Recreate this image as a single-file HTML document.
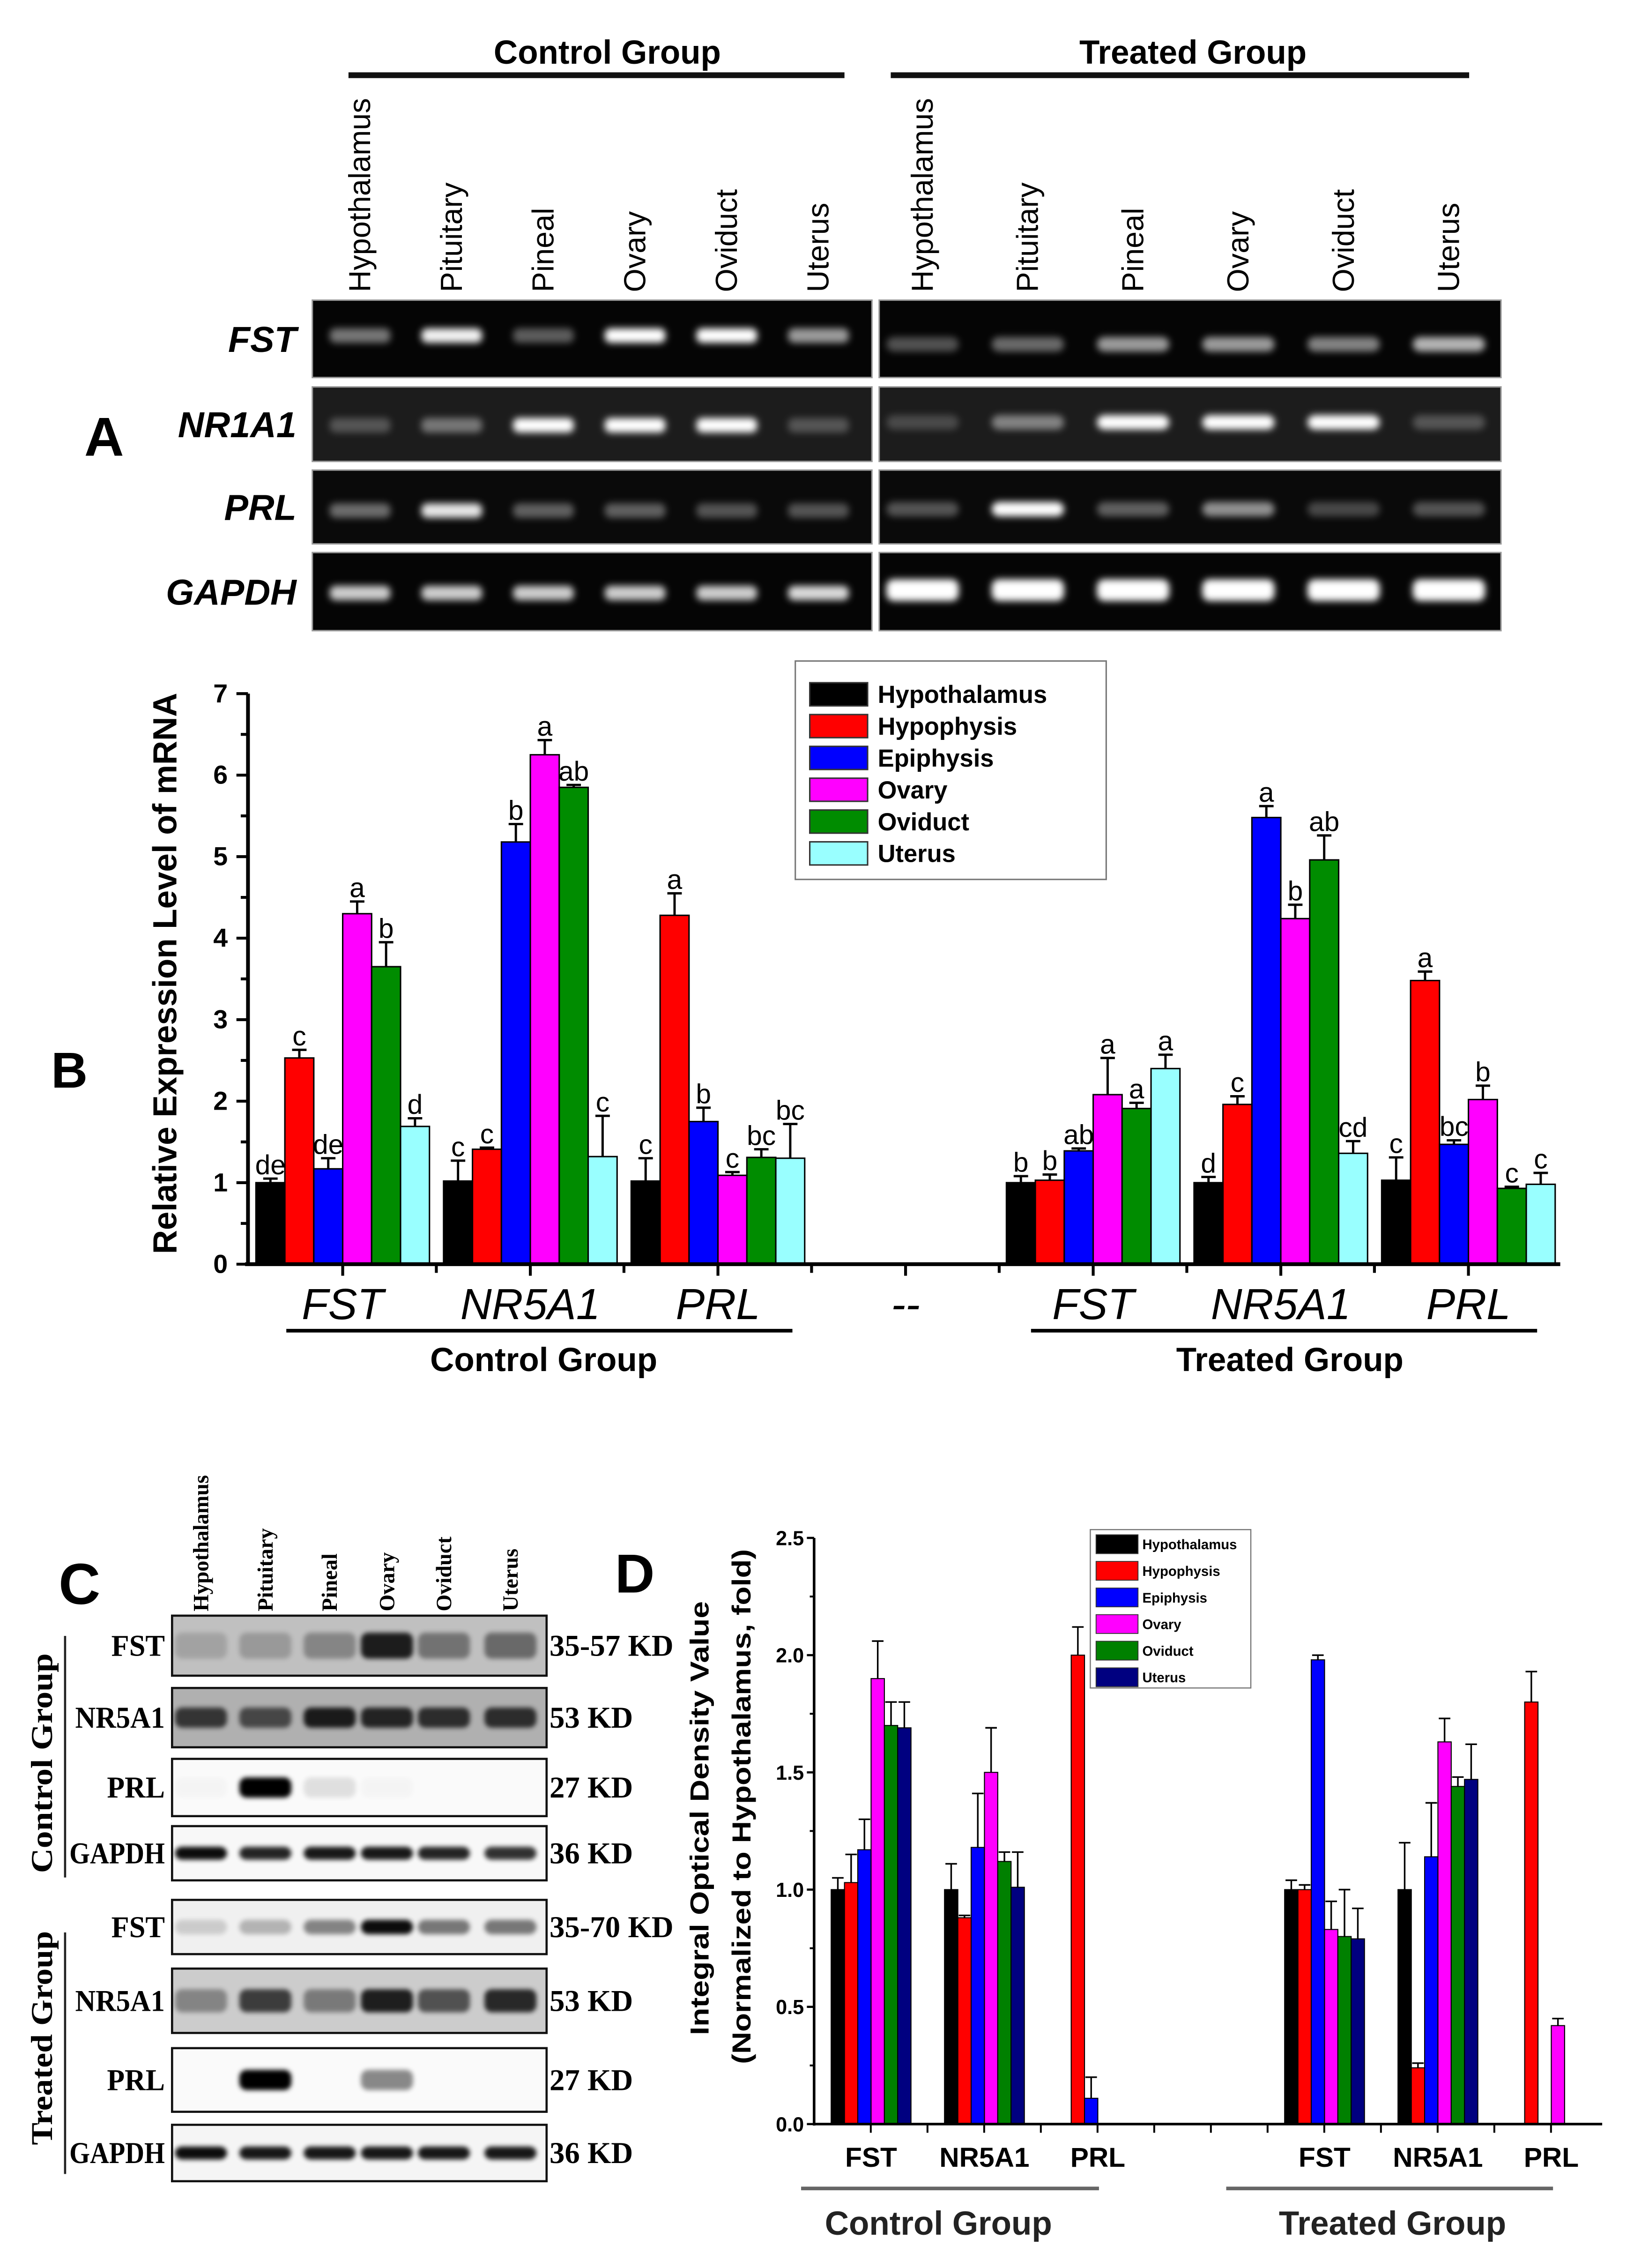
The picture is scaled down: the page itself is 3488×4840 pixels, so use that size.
<!DOCTYPE html>
<html><head><meta charset="utf-8">
<style>
html,body{margin:0;padding:0;background:#fff;}
svg{display:block;}
.sans{font-family:"Liberation Sans",sans-serif;}
.serif{font-family:"Liberation Serif",serif;}
</style></head>
<body>
<svg id="fig" width="3488" height="4840" viewBox="0 0 1130 1568" xmlns="http://www.w3.org/2000/svg">
<defs>
<filter id="glow" x="-50%" y="-200%" width="200%" height="500%"><feGaussianBlur stdDeviation="2.4"/></filter>
<filter id="soft" x="-50%" y="-200%" width="200%" height="500%"><feGaussianBlur stdDeviation="1.6"/></filter>
</defs>
<rect width="1130" height="1568" fill="#fff"/>

<!-- PANEL A -->
<g id="panelA">
<text x="72" y="315" class="sans" font-size="38" font-weight="bold" text-anchor="middle">A</text>
<text x="420" y="44" class="sans" font-size="23" font-weight="bold" text-anchor="middle">Control Group</text>
<rect x="241" y="50" width="343" height="4" fill="#111"/>
<text x="825" y="44" class="sans" font-size="23" font-weight="bold" text-anchor="middle">Treated Group</text>
<rect x="616" y="50" width="400" height="4" fill="#111"/>
<g id="aLanes"></g>
<g id="aGels"></g>
</g>

<!-- PANEL B -->
<g id="panelB">
<text x="48" y="752" class="sans" font-size="35" font-weight="bold" text-anchor="middle">B</text>
<text transform="translate(122,673) rotate(-90)" class="sans" font-size="23" font-weight="bold" text-anchor="middle" textLength="388" lengthAdjust="spacingAndGlyphs">Relative Expression Level of mRNA</text>
<g id="bChart"></g>
</g>

<!-- PANEL C -->
<g id="panelC">
<text x="55" y="1109" class="sans" font-size="40" font-weight="bold" text-anchor="middle">C</text>
<text transform="translate(36,1219) rotate(-90)" class="serif" font-size="21" font-weight="bold" text-anchor="middle" textLength="152" lengthAdjust="spacingAndGlyphs">Control Group</text>
<line x1="45" y1="1131" x2="45" y2="1298" stroke="#222" stroke-width="1.5"/>
<text transform="translate(36,1409) rotate(-90)" class="serif" font-size="21" font-weight="bold" text-anchor="middle" textLength="148" lengthAdjust="spacingAndGlyphs">Treated Group</text>
<line x1="45" y1="1336" x2="45" y2="1503" stroke="#222" stroke-width="1.5"/>
<g id="cBlot"></g>
</g>

<!-- PANEL D -->
<g id="panelD">
<text x="439" y="1101" class="sans" font-size="38" font-weight="bold" text-anchor="middle">D</text>
<text transform="translate(490,1257) rotate(-90)" class="sans" font-size="18" font-weight="bold" text-anchor="middle" textLength="300" lengthAdjust="spacingAndGlyphs">Integral Optical Density Value</text>
<text transform="translate(519,1249) rotate(-90)" class="sans" font-size="18" font-weight="bold" text-anchor="middle" textLength="356" lengthAdjust="spacingAndGlyphs">(Normalized to Hypothalamus, fold)</text>
<g id="dChart"></g>
</g>
</svg>

<script>
var NS = "http://www.w3.org/2000/svg";
function mk(tag, attrs, parent){var e=document.createElementNS(NS,tag);for(var k in attrs)e.setAttribute(k,attrs[k]);parent.appendChild(e);return e;}

/* ---------- Panel A data ---------- */
var aLaneNames = ["Hypothalamus","Pituitary","Pineal","Ovary","Oviduct","Uterus"];
var aGenes = ["FST","NR1A1","PRL","GAPDH"];
var aCtrlFST = [0.45,0.95,0.35,1,1,0.6];
var aCtrlNR = [0.25,0.4,1,1,1,0.25];
var aCtrlPRL = [0.4,0.9,0.35,0.35,0.3,0.3];
var aCtrlGAPDH = [0.8,0.8,0.8,0.8,0.8,0.85];
var aTrtFST = [0.3,0.4,0.6,0.6,0.5,0.7];
var aTrtNR = [0.2,0.45,1,1,1,0.25];
var aTrtPRL = [0.3,1,0.35,0.55,0.25,0.3];
var aTrtGAPDH = [1,1,1,1,1,1];

(function(){
  var lanes = document.getElementById('aLanes');
  var gels = document.getElementById('aGels');
  var ctrlX0=249, ctrlStep=63.4, trtX0=638, trtStep=72.8;
  var rowsTop=[207.5,267.5,325,382], rowsH=[53.5,51.5,51,54];
  var rowBandY=[232,294,353,410];
  var rowBandYT=[238,292,352,408];
  var rowFill=["#050505","#1c1c1c","#0a0a0a","#050505"];
  var ctrlRows=[aCtrlFST,aCtrlNR,aCtrlPRL,aCtrlGAPDH];
  var trtRows=[aTrtFST,aTrtNR,aTrtPRL,aTrtGAPDH];
  for(var g=0; g<2; g++){
    for(var i=0;i<aLaneNames.length;i++){
      var cx = g===0 ? ctrlX0+ctrlStep*i : trtX0+trtStep*i;
      var t = mk('text',{transform:'translate('+(cx+7)+',202) rotate(-90)','class':'sans','font-size':'21','text-anchor':'start'},lanes);
      t.textContent = aLaneNames[i];
      
      
    }
  }
  for(var r=0;r<4;r++){
    var lbl = mk('text',{x:205,y:rowsTop[r]+rowsH[r]/2+9,'class':'sans','font-size':'25','font-weight':'bold','font-style':'italic','text-anchor':'end'},gels);
    lbl.textContent = aGenes[r];
    
    
    var b1 = mk('rect',{x:216,y:rowsTop[r],width:387,height:rowsH[r],fill:rowFill[r],stroke:'#999','stroke-width':'1'},gels);
    
    
    var b2 = mk('rect',{x:608,y:rowsTop[r],width:430,height:rowsH[r],fill:rowFill[r],stroke:'#999','stroke-width':'1'},gels);
    
    
    for(var i=0;i<6;i++){
      var v=ctrlRows[r][i];
      var cx=ctrlX0+ctrlStep*i;
      var bd = mk('rect',{x:cx-21,y:rowBandY[r]-5,width:42,height:10,rx:4,fill:'#fff',opacity:v,filter:'url(#glow)'},gels);
      
      
      var v2=trtRows[r][i];
      var cx2=trtX0+trtStep*i;
      var hh = r===3?15:10;
      var bd2 = mk('rect',{x:cx2-25,y:rowBandYT[r]-hh/2,width:50,height:hh,rx:5,fill:'#fff',opacity:v2,filter:'url(#glow)'},gels);
      
      
    }
  }
})();

/* ---------- Panel B data ---------- */
var bSeries = ["Hypothalamus","Hypophysis","Epiphysis","Ovary","Oviduct","Uterus"];
var bColors = ["#000000","#ff0000","#0000ff","#ff00ff","#008c00","#99ffff"];
var bCategories = ["FST","NR5A1","PRL","--","FST","NR5A1","PRL"];
var bHypothalamus = [1.0,1.02,1.02,null,1.0,1.0,1.03];
var bHypophysis = [2.53,1.41,4.28,null,1.03,1.96,3.48];
var bEpiphysis = [1.17,5.18,1.75,null,1.39,5.48,1.47];
var bOvary = [4.3,6.25,1.09,null,2.08,4.24,2.02];
var bOviduct = [3.65,5.85,1.31,null,1.91,4.96,0.93];
var bUterus = [1.69,1.32,1.3,null,2.4,1.36,0.98];
var bErrHypothalamus = [0.05,0.25,0.28,null,0.08,0.07,0.28];
var bErrHypophysis = [0.1,0.02,0.27,null,0.07,0.1,0.11];
var bErrEpiphysis = [0.13,0.22,0.17,null,0.03,0.14,0.05];
var bErrOvary = [0.15,0.18,0.04,null,0.45,0.17,0.17];
var bErrOviduct = [0.3,0.03,0.1,null,0.07,0.3,0.02];
var bErrUterus = [0.1,0.5,0.42,null,0.17,0.15,0.14];
var bLetHypothalamus = ["de","c","c",null,"b","d","c"];
var bLetHypophysis = ["c","c","a",null,"b","c","a"];
var bLetEpiphysis = ["de","b","b",null,"ab","a","bc"];
var bLetOvary = ["a","a","c",null,"a","b","b"];
var bLetOviduct = ["b","ab","bc",null,"a","ab","c"];
var bLetUterus = ["d","c","bc",null,"a","cd","c"];
var bYTicks = [0,1,2,3,4,5,6,7];

(function(){
  var G=document.getElementById('bChart');
  var vals=[bHypothalamus,bHypophysis,bEpiphysis,bOvary,bOviduct,bUterus];
  var errs=[bErrHypothalamus,bErrHypophysis,bErrEpiphysis,bErrOvary,bErrOviduct,bErrUterus];
  var lets=[bLetHypothalamus,bLetHypophysis,bLetEpiphysis,bLetOvary,bLetOviduct,bLetUterus];
  var y0=874, yPer=56.35, axX=171.5, axEnd=1079;
  function Y(v){return y0 - v*yPer;}
  var step=129.75, start0=177, bw=20;
  function slotStart(i){return start0+step*i;}
  function slotCenter(i){return slotStart(i)+bw*3;}
  for(var s=0;s<vals.length;s++){
    for(var i=0;i<bCategories.length;i++){
      var v=vals[s][i]; if(v===null) continue;
      var x=slotStart(i)+bw*s;
      var top=Y(v+errs[s][i]);
      var el=mk('line',{x1:x+bw/2,y1:Y(v),x2:x+bw/2,y2:top,stroke:'#000','stroke-width':'1.6'},G);
      
      
      var cap=mk('line',{x1:x+bw/2-5,y1:top,x2:x+bw/2+5,y2:top,stroke:'#000','stroke-width':'1.6'},G);
      
      
      var r=mk('rect',{x:x,y:Y(v),width:bw,height:y0-Y(v),fill:bColors[s],stroke:'#000','stroke-width':'1'},G);
      
      
      var t=mk('text',{x:x+bw/2,y:top-3,'class':'sans','font-size':'19','text-anchor':'middle'},G);
      t.textContent=lets[s][i];
      
      
    }
  }
  var ya=mk('line',{x1:axX,y1:y0+1,x2:axX,y2:Y(7),stroke:'#000','stroke-width':'2.6'},G);
  
  
  var xa=mk('line',{x1:axX-2,y1:y0,x2:axEnd,y2:y0,stroke:'#000','stroke-width':'2.6'},G);
  
  
  for(var k=0;k<bYTicks.length;k++){
    var tv=bYTicks[k];
    var tk=mk('line',{x1:axX-8,y1:Y(tv),x2:axX,y2:Y(tv),stroke:'#000','stroke-width':'2'},G);
    
    
    if(k<bYTicks.length-1){
      var mt=mk('line',{x1:axX-5,y1:Y(tv+0.5),x2:axX,y2:Y(tv+0.5),stroke:'#000','stroke-width':'2'},G);
      
      
    }
    var tl=mk('text',{x:axX-14,y:Y(tv)+6,'class':'sans','font-size':'18','font-weight':'bold','text-anchor':'end'},G);
    tl.textContent=String(tv);
    
    
  }
  for(var i=0;i<bCategories.length;i++){
    var cx=slotCenter(i);
    var t1=mk('line',{x1:cx,y1:y0,x2:cx,y2:y0+8,stroke:'#000','stroke-width':'2'},G);
    
    
    var bx=slotStart(i)-5;
    if(i>0){
      var t2=mk('line',{x1:bx,y1:y0,x2:bx,y2:y0+6,stroke:'#000','stroke-width':'2'},G);
      
      
    }
    var cl=mk('text',{x:cx,y:912,'class':'sans','font-size':'30','font-style':'italic','text-anchor':'middle'},G);
    cl.textContent=bCategories[i];
    
    
  }
  var l1=mk('line',{x1:198,y1:920,x2:548,y2:920,stroke:'#000','stroke-width':'2.5'},G);
  
  
  var l2=mk('line',{x1:713,y1:920,x2:1063,y2:920,stroke:'#000','stroke-width':'2.5'},G);
  
  
  var g1=mk('text',{x:376,y:948,'class':'sans','font-size':'23','font-weight':'bold','text-anchor':'middle'},G);
  g1.textContent='Control Group';
  
  
  var g2=mk('text',{x:892,y:948,'class':'sans','font-size':'23','font-weight':'bold','text-anchor':'middle'},G);
  g2.textContent='Treated Group';
  
  
  var lg=mk('g',{},G);
  
  
  var lb=mk('rect',{x:550,y:457,width:215,height:151,fill:'#fff',stroke:'#777','stroke-width':'1'},lg);
  
  
  for(var s=0;s<bSeries.length;s++){
    var cy=480+22*s;
    var sw=mk('rect',{x:560,y:cy-8,width:40,height:16,fill:bColors[s],stroke:'#333','stroke-width':'1'},lg);
    
    
    var lt=mk('text',{x:607,y:cy+6,'class':'sans','font-size':'17','font-weight':'bold'},lg);
    lt.textContent=bSeries[s];
    
    
  }
})();

/* ---------- Panel C data ---------- */
var cLaneNames = ["Hypothalamus","Pituitary","Pineal","Ovary","Oviduct","Uterus"];
var cRowLabels = ["FST","NR5A1","PRL","GAPDH","FST","NR5A1","PRL","GAPDH"];
var cKdLabels = ["35-57 KD","53 KD","27 KD","36 KD","35-70 KD","53 KD","27 KD","36 KD"];
var cInt0 = [0.15,0.2,0.3,0.85,0.4,0.45];
var cInt1 = [0.7,0.6,0.85,0.8,0.75,0.75];
var cInt2 = [0.02,1,0.1,0.02,0,0];
var cInt3 = [0.95,0.85,0.9,0.9,0.85,0.8];
var cInt4 = [0.15,0.25,0.45,0.95,0.5,0.5];
var cInt5 = [0.35,0.7,0.4,0.85,0.6,0.8];
var cInt6 = [0,1,0,0.45,0,0];
var cInt7 = [0.95,0.9,0.9,0.9,0.9,0.9];

(function(){
  var G=document.getElementById('cBlot');
  var laneX=[139,183.5,228,267.6,307,353];
  var rowTop=[1117,1167,1216,1262.5,1313.5,1361,1416,1469];
  var rowBot=[1158.5,1208,1255.6,1300,1351,1405.5,1460,1508];
  var rowBg=["#c0c0c0","#b0b0b0","#fafafa","#f8f8f8","#f0f0f0","#cccccc","#fafafa","#f5f5f5"];
  var ints=[cInt0,cInt1,cInt2,cInt3,cInt4,cInt5,cInt6,cInt7];
  var bandH=[18,14,14,9,10,16,14,9];
  var labLen=[37,62,40,66,37,62,40,66];
  for(var i=0;i<cLaneNames.length;i++){
    var t=mk('text',{transform:'translate('+(laneX[i]+5)+',1114) rotate(-90)','class':'serif','font-size':'15','font-weight':'bold'},G);
    t.textContent=cLaneNames[i];
    
    
  }
  for(var r=0;r<cRowLabels.length;r++){
    var cy=(rowTop[r]+rowBot[r])/2;
    var bg=mk('rect',{x:119,y:rowTop[r],width:259,height:rowBot[r]-rowTop[r],fill:rowBg[r],stroke:'#111','stroke-width':'1.5'},G);
    
    
    for(var i=0;i<6;i++){
      var v=ints[r][i]; if(v<=0) continue;
      var b=mk('rect',{x:laneX[i]-18,y:cy-bandH[r]/2,width:36,height:bandH[r],rx:5,fill:'#000',opacity:v,filter:'url(#soft)'},G);
      
      
    }
    var lb=mk('text',{x:114,y:cy+7,'class':'serif','font-size':'21','font-weight':'bold','text-anchor':'end',textLength:labLen[r],lengthAdjust:'spacingAndGlyphs'},G);
    lb.textContent=cRowLabels[r];
    
    
    var kd=mk('text',{x:380,y:cy+7,'class':'serif','font-size':'21','font-weight':'bold'},G);
    kd.textContent=cKdLabels[r];
    
    
  }
})();

/* ---------- Panel D data ---------- */
var dSeries = ["Hypothalamus","Hypophysis","Epiphysis","Ovary","Oviduct","Uterus"];
var dColors = ["#000000","#ff0000","#0000ff","#ff00ff","#008000","#000080"];
var dCategories = ["FST","NR5A1","PRL","","FST","NR5A1","PRL"];
var dHypothalamus = [1.0,1.0,0,null,1.0,1.0,0];
var dHypophysis = [1.03,0.88,2.0,null,1.0,0.24,1.8];
var dEpiphysis = [1.17,1.18,0.11,null,1.98,1.14,0];
var dOvary = [1.9,1.5,0,null,0.83,1.63,0.42];
var dOviduct = [1.7,1.12,0,null,0.8,1.44,0];
var dUterus = [1.69,1.01,0,null,0.79,1.47,0];
var dErrHypothalamus = [0.05,0.11,0,null,0.04,0.2,0];
var dErrHypophysis = [0.12,0.01,0.12,null,0.02,0.02,0.13];
var dErrEpiphysis = [0.13,0.23,0.09,null,0.02,0.23,0];
var dErrOvary = [0.16,0.19,0,null,0.12,0.1,0.03];
var dErrOviduct = [0.1,0.04,0,null,0.2,0.04,0];
var dErrUterus = [0.11,0.15,0,null,0.13,0.15,0];
var dYTicks = [0,0.5,1,1.5,2,2.5];
var dYTickLabels = ["0.0","0.5","1.0","1.5","2.0","2.5"];

(function(){
  var G=document.getElementById('dChart');
  var vals=[dHypothalamus,dHypophysis,dEpiphysis,dOvary,dOviduct,dUterus];
  var errs=[dErrHypothalamus,dErrHypophysis,dErrEpiphysis,dErrOvary,dErrOviduct,dErrUterus];
  var y0=1468.5, yPer=162.1, axX=563, axEnd=1108;
  function Y(v){return y0-v*yPer;}
  var start0=574.8, step=78.4, bw=9.2;
  function slotStart(i){return start0+step*i;}
  for(var s=0;s<vals.length;s++){
    for(var i=0;i<dCategories.length;i++){
      var v=vals[s][i]; if(v===null||v<=0) continue;
      var x=slotStart(i)+bw*s;
      var e=errs[s][i];
      if(e>0){
        var top=Y(v+e);
        var el=mk('line',{x1:x+bw/2,y1:Y(v),x2:x+bw/2,y2:top,stroke:'#000','stroke-width':'1.1'},G);
        
        
        var cap=mk('line',{x1:x+bw/2-4,y1:top,x2:x+bw/2+4,y2:top,stroke:'#000','stroke-width':'1.1'},G);
        
        
      }
      var r=mk('rect',{x:x,y:Y(v),width:bw,height:y0-Y(v),fill:dColors[s],stroke:'#000','stroke-width':'0.7'},G);
      
      
    }
  }
  var ya=mk('line',{x1:axX,y1:y0+1,x2:axX,y2:Y(2.5),stroke:'#000','stroke-width':'1.8'},G);
  
  
  var xa=mk('line',{x1:axX,y1:y0,x2:axEnd,y2:y0,stroke:'#000','stroke-width':'1.8'},G);
  
  
  for(var k=0;k<dYTicks.length;k++){
    var tk=mk('line',{x1:axX-5,y1:Y(dYTicks[k]),x2:axX,y2:Y(dYTicks[k]),stroke:'#000','stroke-width':'1.5'},G);
    
    
    if(k<dYTicks.length-1){
      var mt=mk('line',{x1:axX-3,y1:Y(dYTicks[k]+0.25),x2:axX,y2:Y(dYTicks[k]+0.25),stroke:'#000','stroke-width':'1.3'},G);
      
      
    }
    var tl=mk('text',{x:axX-7,y:Y(dYTicks[k])+5,'class':'sans','font-size':'14','font-weight':'bold','text-anchor':'end'},G);
    tl.textContent=dYTickLabels[k];
    
    
  }
  for(var j=1;j<14;j++){
    var tx=axX+39.2*j;
    var t1=mk('line',{x1:tx,y1:y0,x2:tx,y2:y0+6,stroke:'#000','stroke-width':'1.3'},G);
    
    
  }
  for(var i=0;i<dCategories.length;i++){
    if(!dCategories[i]) continue;
    var cx=slotStart(i)+bw*3;
    var cl=mk('text',{x:cx,y:1498,'class':'sans','font-size':'19','font-weight':'bold','text-anchor':'middle'},G);
    cl.textContent=dCategories[i];
    
    
  }
  var l1=mk('line',{x1:554,y1:1513,x2:760,y2:1513,stroke:'#666','stroke-width':'2.5'},G);
  
  
  var l2=mk('line',{x1:848,y1:1513,x2:1074,y2:1513,stroke:'#666','stroke-width':'2.5'},G);
  
  
  var g1=mk('text',{x:649,y:1545,'class':'sans','font-size':'23','font-weight':'bold','text-anchor':'middle','fill':'#222'},G);
  g1.textContent='Control Group';
  
  
  var g2=mk('text',{x:963,y:1545,'class':'sans','font-size':'23','font-weight':'bold','text-anchor':'middle','fill':'#222'},G);
  g2.textContent='Treated Group';
  
  
  var lg=mk('g',{},G);
  
  
  var lb=mk('rect',{x:754,y:1057.5,width:111,height:109.5,fill:'#fff',stroke:'#777','stroke-width':'0.8'},lg);
  
  
  for(var s=0;s<dSeries.length;s++){
    var cy=1067.6+18.4*s;
    var sw=mk('rect',{x:758,y:cy-6.5,width:29,height:13,fill:dColors[s],stroke:'#333','stroke-width':'0.6'},lg);
    
    
    var lt=mk('text',{x:790,y:cy+3.5,'class':'sans','font-size':'9.5','font-weight':'bold'},lg);
    lt.textContent=dSeries[s];
    
    
  }
})();
</script>
</body></html>
